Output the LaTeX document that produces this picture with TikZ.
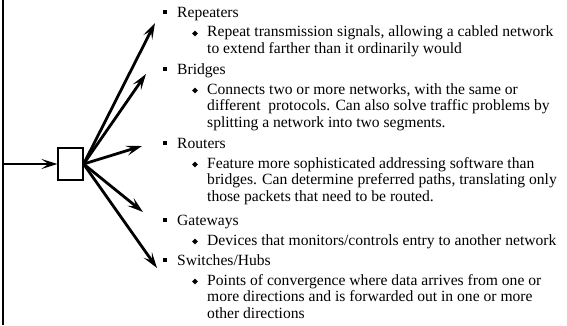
\documentclass[tikz,border=0pt]{standalone}
\usepackage{fontspec}
\setmainfont{Liberation Serif}
\usetikzlibrary{arrows.meta, positioning, shapes.geometric}
\tikzset{
    hub/.style={
        rectangle, draw=black, line width=1.2pt,
        minimum width=25pt, minimum height=32pt,
        inner sep=0pt, fill=white
    },
    link/.style={draw=black, line width=2.8pt, -{Stealth[length=16pt, width=10pt, inset=7pt]}},
    edge/.style={draw=black, line width=2pt},
    topic/.style={anchor=base west, inner sep=0pt, font=\fontsize{15.6}{16.7}\selectfont},
    detail/.style={anchor=base west, inner sep=0pt, align=left, font=\fontsize{15.6}{16.7}\selectfont},
    sqdot/.style={rectangle, fill=black, minimum size=4.5pt, inner sep=0pt},
    dmdot/.style={diamond, fill=black, minimum size=6pt, inner sep=0pt}
}

\begin{document}
\begin{tikzpicture}[x=1pt, y=-1pt]
\useasboundingbox (0,0) rectangle (567,325);

% left edge
\coordinate (top) at (3,0);
\coordinate (bot) at (3,325);
\coordinate (in) at (3,164);
\draw[edge] (top) -- (bot);

% the device
\node[hub] (dev) at (70.5,164) {};
\draw[link] (in) -- (dev.west);

% arrow tips
\coordinate (t1) at (155,23);
\coordinate (t2) at (146,74);
\coordinate (t3) at (142,146);
\coordinate (t4) at (143,212);
\coordinate (t5) at (157,268);
\foreach \t in {t1,t2,t3,t4,t5}
    \draw[link] (dev.east) -- (\t);

% Repeaters (detail nodes sit on their last baseline)
\node[sqdot] (b1) at (165,12) {};
\node[topic] (rep) at (177,17) {Repeaters};
\node[dmdot] (d1) at (195,33.5) {};
\node[detail] (repd) at (207,53.5) {Repeat transmission signals, allowing a cabled network\\
to extend farther than it ordinarily would};

% Bridges
\node[sqdot] (b2) at (165,69) {};
\node[topic] (bri) at (177,74) {Bridges};
\node[dmdot] (d2) at (195,90.5) {};
\node[detail] (brid) at (207,127.4) {Connects two or more networks, with the same or\\
different\ \ protocols. Can also solve traffic problems by\\
splitting a network into two segments.};

% Routers
\node[sqdot] (b3) at (165,143) {};
\node[topic] (rou) at (177,148) {Routers};
\node[dmdot] (d3) at (195,164.5) {};
\node[detail] (roud) at (207,201.4) {Feature more sophisticated addressing software than\\
bridges. Can determine preferred paths, translating only\\
those packets that need to be routed.};

% Gateways
\node[sqdot] (b4) at (165,220) {};
\node[topic] (gat) at (177,225) {Gateways};
\node[dmdot] (d4) at (195,241.5) {};
\node[detail] (gatd) at (207,245) {Devices that monitors/controls entry to another network};

% Switches/Hubs
\node[sqdot] (b5) at (165,260) {};
\node[topic] (swi) at (177,265) {Switches/Hubs};
\node[dmdot] (d5) at (195,281.5) {};
\node[detail] (swid) at (207,318.4) {Points of convergence where data arrives from one or\\
more directions and is forwarded out in one or more\\
other directions};

\end{tikzpicture}
\end{document}
